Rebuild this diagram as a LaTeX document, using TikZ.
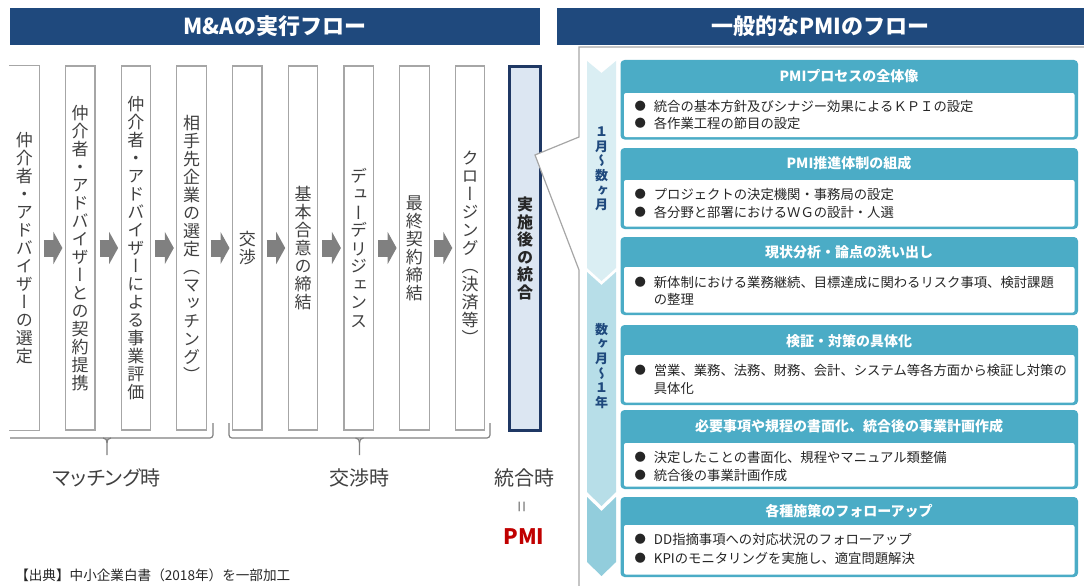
\documentclass[tikz,border=0pt]{standalone}
\usepackage{fontspec}
\setmainfont{Noto Sans CJK JP}
\newfontfamily\tatefont[RawFeature=+vert]{Noto Sans CJK JP}
\newfontfamily\propfont[RawFeature=+palt]{Noto Sans CJK JP}
\usetikzlibrary{arrows.meta,positioning}

\definecolor{hdrblue}{HTML}{1F497D}
\definecolor{pmiblue}{HTML}{1F3864}
\definecolor{pmifill}{HTML}{DCE6F2}
\definecolor{tealhead}{HTML}{4BACC6}
\definecolor{chevA}{HTML}{DAEEF3}
\definecolor{chevB}{HTML}{B7DEE8}
\definecolor{chevC}{HTML}{92CDDC}
\definecolor{linegray}{HTML}{A6A6A6}
\definecolor{arrowgray}{HTML}{808080}
\definecolor{txtgray}{HTML}{404040}
\definecolor{txtdark}{HTML}{262626}
\definecolor{pmired}{HTML}{C00000}

% vertical text: one glyph per line
\newcommand\tate[1]{\vbox{\lineskiplimit=-\maxdimen\tateloop#1\relax}}
\def\tateloop#1{\ifx\relax#1\else\hbox to 1em{\hss#1\hss}\expandafter\tateloop\fi}
\newcommand\bul{\makebox[14.5pt][l]{\raisebox{0.6pt}{\fontsize{8.5}{8.5}\selectfont ●}}}

\begin{document}
\begin{tikzpicture}[x=0.75pt,y=0.75pt,yscale=-1,xscale=1,
  hdr/.style={fill=hdrblue, text=white, inner sep=0pt, font=\bfseries\fontsize{16.5}{18}\selectfont},
  colbox/.style={draw=linegray, line width=0.9pt, minimum width=22.1pt, minimum height=273pt, inner sep=0pt, text=txtgray, font=\tatefont\fontsize{12.75}{13.5}\selectfont},
  colline/.style={draw=linegray, line width=0.9pt},
  garrow/.style={draw=arrowgray, line width=12.75pt, -{Triangle[length=6.75pt,width=24pt]}, shorten <=3pt, shorten >=1.85pt},
  pmibox/.style={draw=pmiblue, line width=2.25pt, fill=pmifill, minimum width=23.25pt, minimum height=273pt, inner sep=0pt, text=txtdark, font=\tatefont\bfseries\fontsize{12}{13.1}\selectfont},
  bracel/.style={draw=arrowgray, line width=0.9pt},
  lbl/.style={text=txtgray, font=\propfont\fontsize{15}{17}\selectfont},
  calloutline/.style={draw=linegray, line width=0.9pt},
  chevtxt/.style={inner sep=0pt, text=hdrblue, font=\tatefont\bfseries\fontsize{9.75}{11}\selectfont},
  tealbox/.style={fill=tealhead, rounded corners=3pt},
  innerbox/.style={fill=white, rounded corners=1.5pt},
  ttl/.style={text=white, font=\bfseries\fontsize{10.5}{12}\selectfont},
  bodytxt/.style={anchor=west, inner sep=0pt, text=txtdark, font=\fontsize{10}{12}\selectfont}]
\useasboundingbox (0,0) rectangle (1084,585);

%Shape: Rectangle [header left]
\node[hdr, minimum width=397.5pt, minimum height=27.75pt] (hdrL) at (275,26.5) {M\&Aの実行フロー};
%Shape: Rectangle [header right]
\node[hdr, minimum width=395.25pt, minimum height=27.75pt] (hdrR) at (820.5,26.5) {一般的なPMIのフロー};

%Columns
\node[colbox, draw=none] (c1) at (24.5,248) {\tate{仲介者・アドバイザーの選定}};
\draw[colline] (c1.north west) -- (c1.north east) -- (c1.south east) -- (c1.south west);
\node[colbox] (c2) at (80.2,248) {\tate{仲介者・アドバイザーとの契約提携}};
\node[colbox] (c3) at (135.9,248) {\tate{仲介者・アドバイザーによる事業評価}};
\node[colbox] (c4) at (191.6,248) {\tate{相手先企業の選定（マッチング）}};
\node[colbox] (c5) at (247.3,248) {\tate{交渉}};
\node[colbox] (c6) at (303,248) {\tate{基本合意の締結}};
\node[colbox] (c7) at (358.7,248) {\tate{デューデリジェンス}};
\node[colbox] (c8) at (414.4,248) {\tate{最終契約締結}};
\node[colbox] (c9) at (470.1,248) {\tate{クロージング（決済等）}};

%Block Arrows
\draw[garrow] (c1) -- (c2);
\draw[garrow] (c2) -- (c3);
\draw[garrow] (c3) -- (c4);
\draw[garrow] (c4) -- (c5);
\draw[garrow] (c5) -- (c6);
\draw[garrow] (c6) -- (c7);
\draw[garrow] (c7) -- (c8);
\draw[garrow] (c8) -- (c9);

%Shape: Rectangle [integration]
\node[pmibox] (pmi) at (525,248.5) {\tate{実施後の統合}};

%Braces
\draw[bracel, rounded corners=2.25pt] (10,438) -- (213,438) -- (213,423);
\draw[bracel] (103,438) .. controls (106,438) and (107,440) .. (107,443) -- (107,455);
\draw[bracel] (111,438) .. controls (108,438) and (107,440) .. (107,443);
\draw[bracel, rounded corners=2.25pt] (229,423) -- (229,438) -- (490,438) -- (490,423);
\draw[bracel] (355.5,438) .. controls (358.5,438) and (359.5,440) .. (359.5,443) -- (359.5,455);
\draw[bracel] (363.5,438) .. controls (360.5,438) and (359.5,440) .. (359.5,443);

% Text Node
\node[lbl] (tMatch) at (107,478) {マッチング時};
\node[lbl] (tNego) at (359.5,478) {交渉時};
\node[lbl] (tInt) at (524,478) {統合時};
\node[text=arrowgray, rotate=90, font=\fontsize{15}{15}\selectfont] (tEq) at (524,507) {=};
\node[text=pmired, font=\bfseries\fontsize{16}{18}\selectfont] (tPMI) at (524,537) {PMI};
\node[anchor=west, inner sep=0pt, text=txtdark, font=\fontsize{10.2}{12}\selectfont] (src) at (15,575) {【出典】中小企業白書（2018年）を一部加工};

%Callout
\fill[white] (1090,47) -- (579,47) -- (579,137) -- (535,155) -- (579,270) -- (579,590) -- (1090,590) -- cycle;
\draw[calloutline] (1090,47) -- (579,47) -- (579,137) -- (535,155) -- (579,270) -- (579,590);

%Chevrons
\fill[chevA] (587,61) -- (601.5,73) -- (616,61) -- (616,268) -- (601.5,281) -- (587,268) -- cycle;
\fill[chevB] (587,272) -- (601.5,285) -- (616,272) -- (616,492) -- (601.5,506) -- (587,492) -- cycle;
\fill[chevC] (587,497) -- (601.5,511) -- (616,497) -- (616,562) -- (601.5,576) -- (587,562) -- cycle;
\node[chevtxt] (per1) at (601.5,169) {\tate{１月～数ヶ月}};
\node[chevtxt] (per2) at (601.5,366) {\tate{数ヶ月～１年}};

%Step 1
\fill[tealbox] (620.5,60) rectangle (1078,139.5);
\fill[innerbox] (624,93) rectangle (1074.5,137);
\node[ttl] (s1) at (849,76.5) {PMIプロセスの全体像};
\node[bodytxt] (s1a) at (634.3,106) {\bul 統合の基本方針及びシナジー効果によるＫＰＩの設定};
\node[bodytxt] (s1b) at (634.3,123) {\bul 各作業工程の節目の設定};

%Step 2
\fill[tealbox] (620.5,148) rectangle (1078,229);
\fill[innerbox] (624,180) rectangle (1074.5,226.5);
\node[ttl] (s2) at (849,163.5) {PMI推進体制の組成};
\node[bodytxt] (s2a) at (634.3,194) {\bul プロジェクトの決定機関・事務局の設定};
\node[bodytxt] (s2b) at (634.3,212) {\bul 各分野と部署におけるＷＧの設計・人選};

%Step 3
\fill[tealbox] (620.5,237) rectangle (1078,315);
\fill[innerbox] (624,267) rectangle (1074.5,312.5);
\node[ttl] (s3) at (849,252) {現状分析・論点の洗い出し};
\node[bodytxt] (s3a) at (634.3,282) {\bul 新体制における業務継続、目標達成に関わるリスク事項、検討課題};
\node[bodytxt] (s3b) at (634.3,299) {\hspace*{14.5pt}の整理};

%Step 4
\fill[tealbox] (620.5,325) rectangle (1078,405);
\fill[innerbox] (624,355) rectangle (1074.5,402.5);
\node[ttl] (s4) at (849,341) {検証・対策の具体化};
\node[bodytxt] (s4a) at (634.3,370) {\bul 営業、業務、法務、財務、会計、システム等各方面から検証し対策の};
\node[bodytxt] (s4b) at (634.3,388) {\hspace*{14.5pt}具体化};

%Step 5
\fill[tealbox] (620.5,410) rectangle (1078,489);
\fill[innerbox] (624,443) rectangle (1074.5,486.5);
\node[ttl] (s5) at (849,426.5) {必要事項や規程の書面化、統合後の事業計画作成};
\node[bodytxt] (s5a) at (634.3,457) {\bul 決定したことの書面化、規程やマニュアル類整備};
\node[bodytxt] (s5b) at (634.3,475) {\bul 統合後の事業計画作成};

%Step 6
\fill[tealbox] (620.5,497) rectangle (1078,577);
\fill[innerbox] (624,525) rectangle (1074.5,574.5);
\node[ttl] (s6) at (849,511) {各種施策のフォローアップ};
\node[bodytxt] (s6a) at (634.3,539) {\bul DD指摘事項への対応状況のフォローアップ};
\node[bodytxt] (s6b) at (634.3,558) {\bul KPIのモニタリングを実施し、適宜問題解決};

\end{tikzpicture}
\end{document}
